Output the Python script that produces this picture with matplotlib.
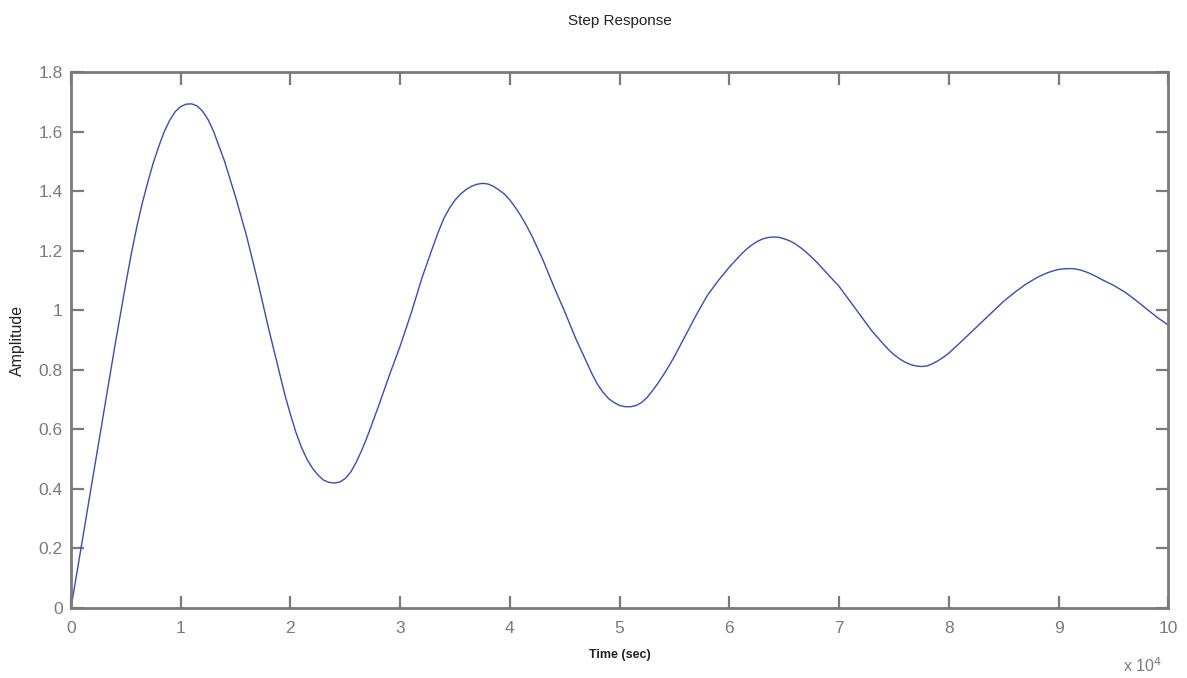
import matplotlib
matplotlib.use('Agg')
import matplotlib.pyplot as plt
from matplotlib.ticker import FuncFormatter

# step response (time in units of 1e4 sec)
tScaled = [0.0, 0.1, 0.2, 0.3, 0.4, 0.5, 0.55, 0.6, 0.65, 0.7, 0.75, 0.8, 0.85, 0.9, 0.95,
           1.0, 1.05, 1.1, 1.15, 1.2, 1.25, 1.3, 1.4, 1.5, 1.6, 1.7, 1.8, 1.9, 1.95,
           2.0, 2.05, 2.1, 2.15, 2.2, 2.25, 2.3, 2.35, 2.4, 2.45, 2.5, 2.55, 2.6, 2.65, 2.7, 2.75, 2.8, 2.9,
           3.0, 3.1, 3.2, 3.3, 3.35, 3.4, 3.45, 3.5, 3.55, 3.6, 3.65, 3.7, 3.75, 3.8, 3.85, 3.9, 3.95,
           4.0, 4.05, 4.1, 4.15, 4.2, 4.3, 4.4, 4.5, 4.6, 4.7, 4.75, 4.8, 4.85, 4.9, 4.95,
           5.0, 5.05, 5.1, 5.15, 5.2, 5.25, 5.3, 5.35, 5.4, 5.45, 5.5, 5.6, 5.7, 5.8, 5.9,
           6.0, 6.1, 6.15, 6.2, 6.25, 6.3, 6.35, 6.4, 6.45, 6.5, 6.55, 6.6, 6.65, 6.7, 6.75, 6.8, 6.9,
           7.0, 7.1, 7.2, 7.3, 7.4, 7.45, 7.5, 7.55, 7.6, 7.65, 7.7, 7.75, 7.8, 7.85, 7.9, 7.95,
           8.0, 8.1, 8.2, 8.3, 8.4, 8.5, 8.6, 8.7, 8.8, 8.85, 8.9, 8.95,
           9.0, 9.05, 9.1, 9.15, 9.2, 9.25, 9.3, 9.35, 9.4, 9.5, 9.6, 9.7, 9.8, 9.9, 10.0]
amp = [0.0, 0.22, 0.44, 0.66, 0.88, 1.09, 1.19, 1.28, 1.36, 1.43, 1.495, 1.55, 1.60, 1.638, 1.667,
       1.684, 1.692, 1.693, 1.686, 1.668, 1.64, 1.60, 1.50, 1.38, 1.25, 1.10, 0.94, 0.79, 0.715,
       0.65, 0.59, 0.54, 0.50, 0.47, 0.447, 0.43, 0.422, 0.42, 0.423, 0.435, 0.457, 0.49, 0.53, 0.575, 0.625, 0.675, 0.78,
       0.88, 0.99, 1.11, 1.215, 1.265, 1.31, 1.343, 1.37, 1.39, 1.405, 1.416, 1.423, 1.426, 1.424, 1.416, 1.404, 1.39,
       1.37, 1.345, 1.317, 1.285, 1.25, 1.17, 1.08, 0.995, 0.905, 0.825, 0.785, 0.75, 0.724, 0.703, 0.69,
       0.68, 0.676, 0.676, 0.68, 0.69, 0.707, 0.73, 0.755, 0.783, 0.813, 0.845, 0.915, 0.985, 1.05, 1.10,
       1.145, 1.185, 1.203, 1.218, 1.23, 1.239, 1.244, 1.246, 1.245, 1.24, 1.233, 1.223, 1.21, 1.195, 1.178, 1.16, 1.12,
       1.08, 1.03, 0.98, 0.93, 0.888, 0.868, 0.851, 0.837, 0.826, 0.818, 0.813, 0.811, 0.813, 0.82, 0.83, 0.842,
       0.856, 0.89, 0.925, 0.96, 0.995, 1.03, 1.06, 1.087, 1.109, 1.118, 1.126, 1.132,
       1.137, 1.139, 1.14, 1.139, 1.135, 1.129, 1.121, 1.112, 1.102, 1.084, 1.062, 1.035, 1.005, 0.976, 0.95]
xTicks = [0, 1, 2, 3, 4, 5, 6, 7, 8, 9, 10]
yTicks = [0, 0.2, 0.4, 0.6, 0.8, 1.0, 1.2, 1.4, 1.6, 1.8]

plt.rcParams['font.family'] = ['Liberation Sans', 'DejaVu Sans']
gray = '#7a7a7a'

fig = plt.figure(figsize=(11.87, 6.78), dpi=100)
ax = fig.add_axes([0.0598, 0.1032, 0.9244, 0.7906])

t = [v * 1e4 for v in tScaled]
ax.plot(t, amp, color='#3b4ea8', lw=1.0)

ax.set_xlim(0, 1e5)
ax.set_ylim(0, 1.8)
ax.set_xticks([v * 1e4 for v in xTicks])
ax.set_yticks(yTicks)
ax.xaxis.set_major_formatter(FuncFormatter(lambda v, p: '%g' % (v / 1e4)))
ax.yaxis.set_major_formatter(FuncFormatter(lambda v, p: '%g' % v))

for s in ax.spines.values():
    s.set_color(gray)
    s.set_linewidth(2.0)
ax.tick_params(direction='in', length=9, width=1.6, color=gray,
               labelcolor=gray, labelsize=12.5, top=True, right=True)
ax.tick_params(axis='x', pad=9)
ax.tick_params(axis='y', pad=6)

ax.set_title('Step Response', fontsize=11, color='#222222', pad=34)
ax.set_ylabel('Amplitude', fontsize=11.5, color='#222222', labelpad=10)
ax.set_xlabel('Time (sec)', fontsize=9, fontweight='bold', color='#222222', labelpad=10)
fig.text(0.946, 0.004, r'x 10$^4$', fontsize=11.5, color=gray, ha='left', va='bottom')

fig.savefig('out.png', dpi=100)
